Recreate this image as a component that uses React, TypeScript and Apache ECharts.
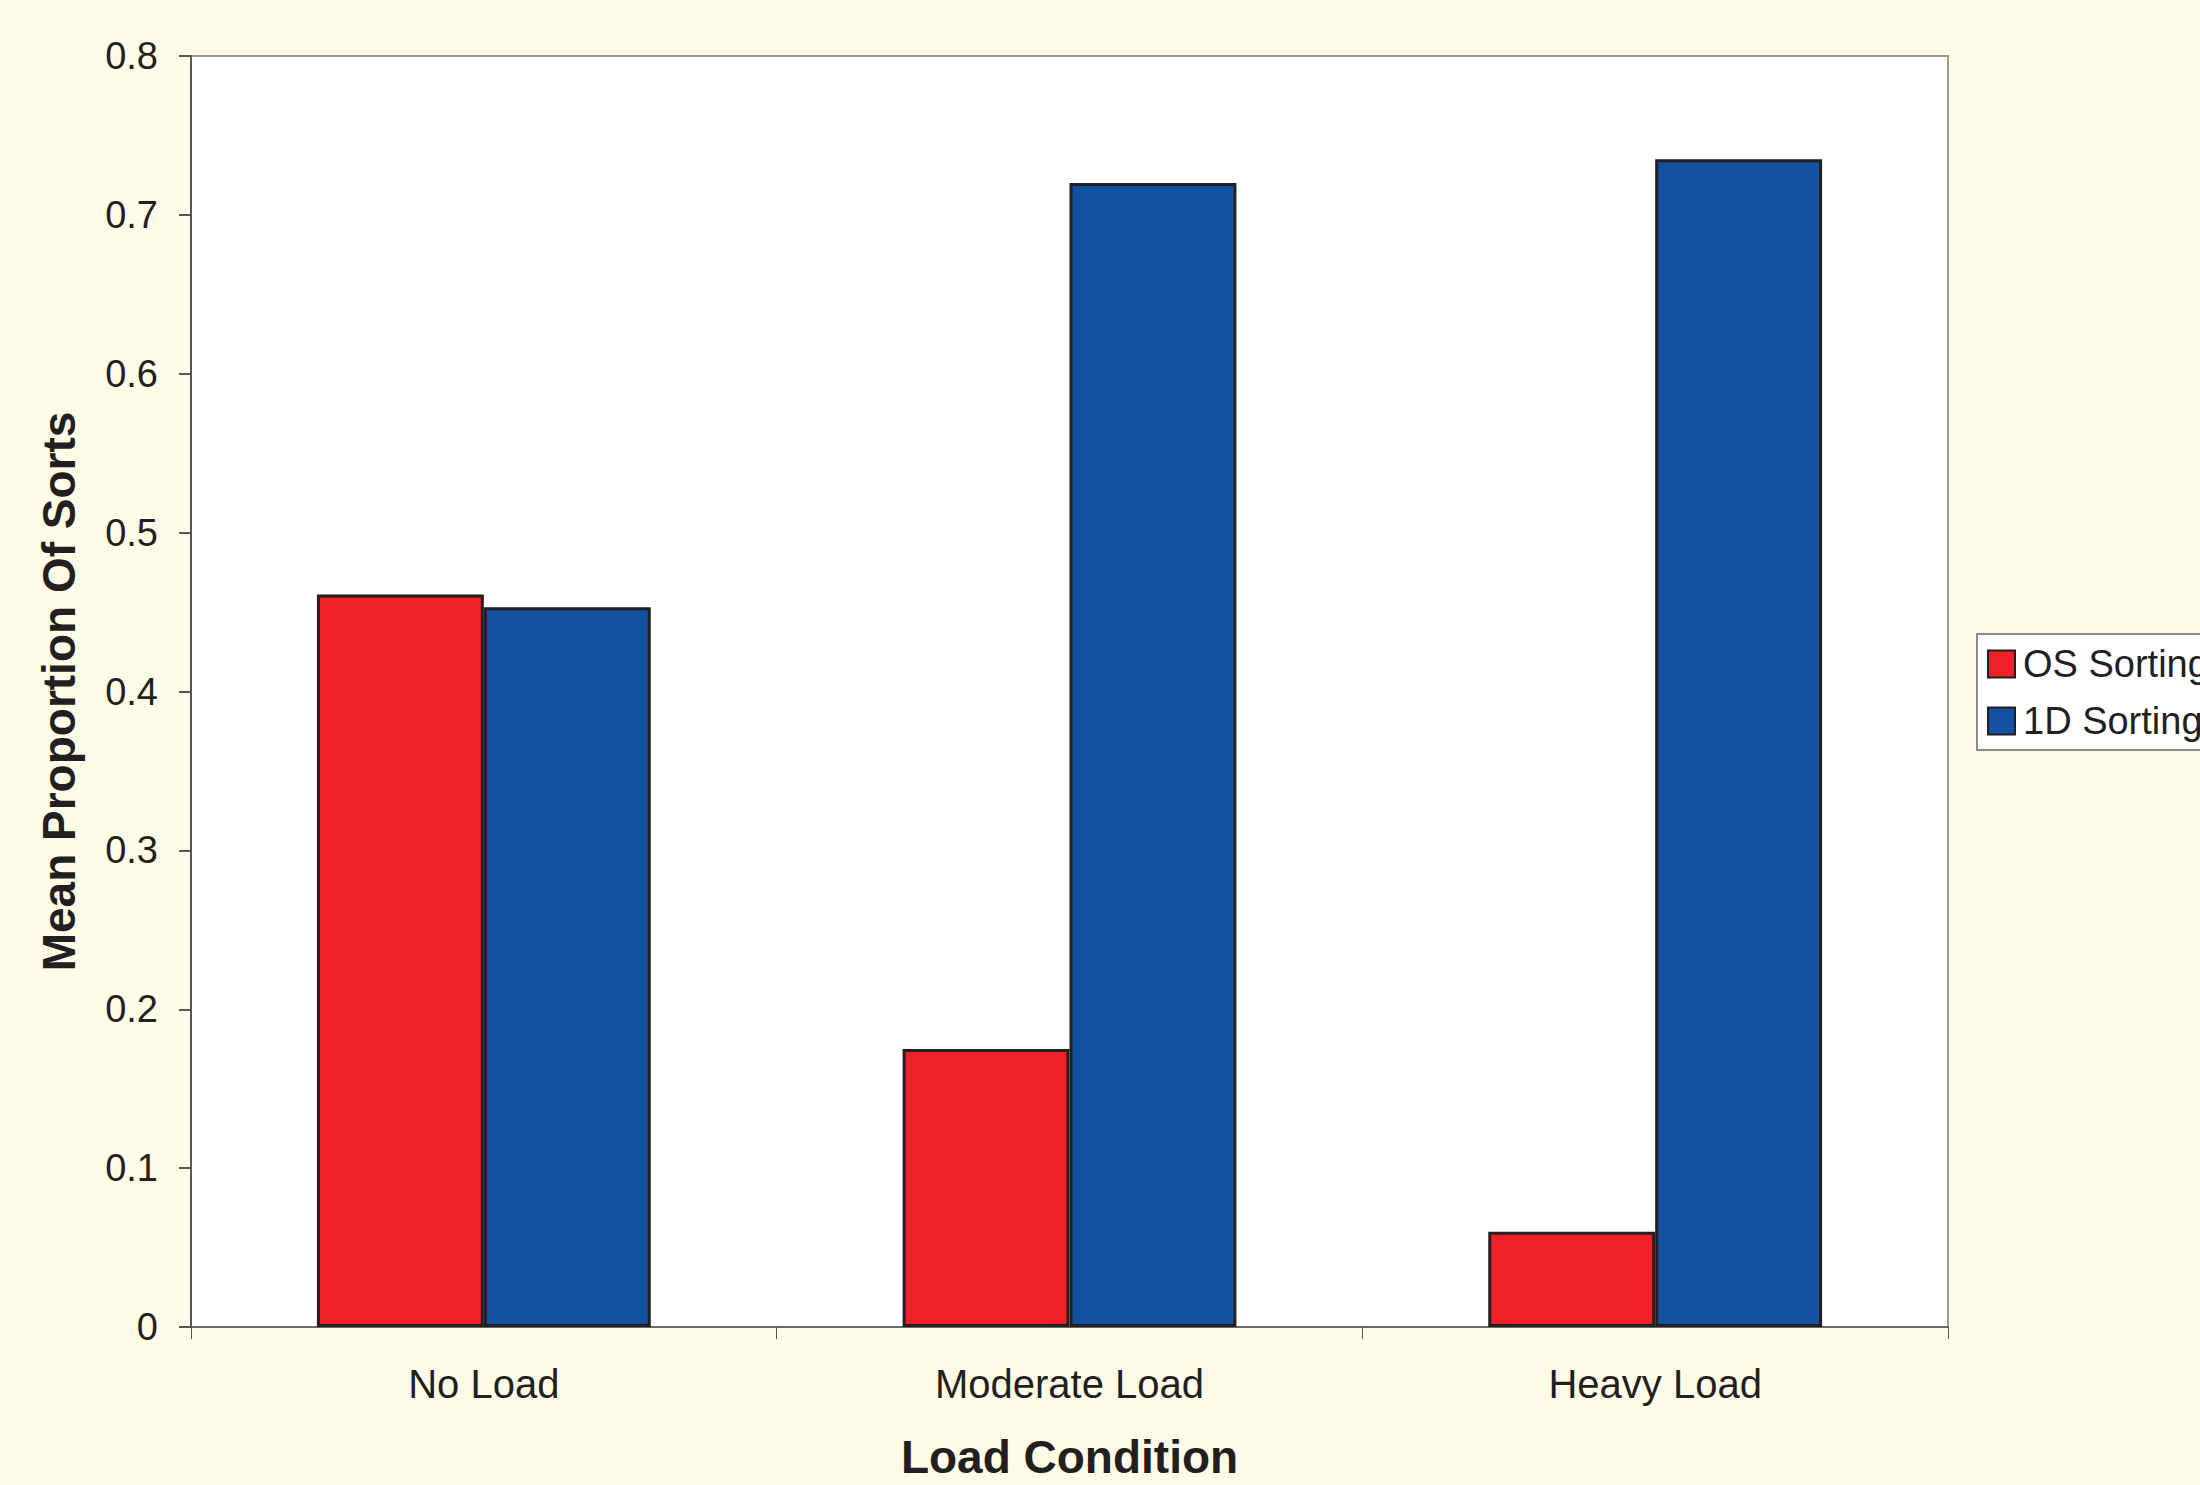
import React, { useEffect, useRef } from "react";
import * as echarts from "echarts";

const categories = ["No Load", "Moderate Load", "Heavy Load"];
const osSorting = [0.461, 0.175, 0.06];
const oneDSorting = [0.453, 0.72, 0.735];
const seriesNames = ["OS Sorting", "1D Sorting"];

const FONT = "'Liberation Sans', Arial, sans-serif";
const TEXT = "#231F20";

export default function App() {
  const ref = useRef<HTMLDivElement>(null);
  useEffect(() => {
    if (!ref.current) return;
    const chart = echarts.init(ref.current, undefined, { renderer: "svg" });
    chart.setOption({
      animation: false,
      backgroundColor: "#FEFBE7",
      textStyle: { fontFamily: FONT, color: TEXT },
      grid: {
        left: 191,
        top: 56,
        width: 1757,
        height: 1272,
        show: true,
        backgroundColor: "#FFFFFF",
        borderColor: "#9A9A9A",
        borderWidth: 2,
      },
      legend: {
        orient: "vertical",
        left: 1977,
        top: 634,
        itemWidth: 27,
        itemHeight: 27,
        itemGap: 19,
        padding: [11, 12, 10, 10],
        backgroundColor: "#FFFFFF",
        borderColor: "#8A8A8A",
        borderWidth: 2,
        borderRadius: 0,
        icon: "rect",
        textStyle: { fontFamily: FONT, fontSize: 38, color: TEXT, padding: [0, 0, 0, 3] },
        data: seriesNames,
      },
      xAxis: {
        type: "category",
        data: categories,
        name: "Load Condition",
        nameLocation: "middle",
        nameGap: 107,
        nameTextStyle: { fontFamily: FONT, fontSize: 46, fontWeight: "bold", color: TEXT },
        axisLine: { show: true, lineStyle: { color: "#6A6A6A", width: 2 } },
        axisTick: { show: true, length: 12, lineStyle: { color: "#555", width: 1 } },
        axisLabel: { fontFamily: FONT, fontSize: 40, color: TEXT, margin: 37 },
        splitLine: { show: false },
      },
      yAxis: {
        type: "value",
        min: 0,
        max: 0.8,
        interval: 0.1,
        name: "Mean Proportion Of Sorts",
        nameLocation: "middle",
        nameGap: 109,
        nameTextStyle: { fontFamily: FONT, fontSize: 46, fontWeight: "bold", color: TEXT },
        axisLine: { show: true, lineStyle: { color: "#555", width: 2 } },
        axisTick: { show: true, length: 12, lineStyle: { color: "#555", width: 2 } },
        axisLabel: { fontFamily: FONT, fontSize: 38, color: TEXT, margin: 33 },
        splitLine: { show: false },
      },
      series: [
        {
          name: seriesNames[0],
          type: "bar",
          data: osSorting,
          barGap: "0%",
          barCategoryGap: "43%",
          itemStyle: { color: "#EE2129", borderColor: "#231F20", borderWidth: 3 },
        },
        {
          name: seriesNames[1],
          type: "bar",
          data: oneDSorting,
          itemStyle: { color: "#1351A3", borderColor: "#231F20", borderWidth: 3 },
        },
      ],
    });
    return () => chart.dispose();
  }, []);
  return (
    <div
      ref={ref}
      style={{ position: "fixed", left: 0, top: 0, width: 2200, height: 1485 }}
    />
  );
}
